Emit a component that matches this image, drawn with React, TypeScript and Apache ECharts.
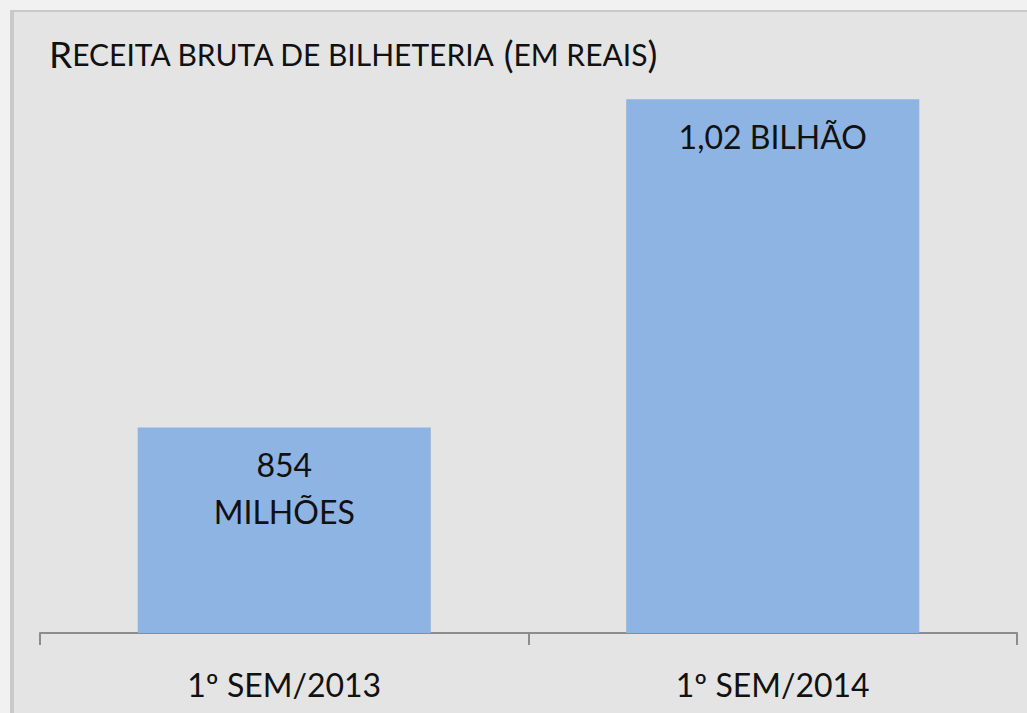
import React, { useEffect, useRef } from "react";
import * as echarts from "echarts";

const categories = ["1º SEM/2013", "1º SEM/2014"];
const values = [854, 1020];
const valueLabels = ["854\nMILHÕES", "1,02 BILHÃO"];
const yMin = 750;
const yMax = 1050;

const FONT = "Lato";

export default function App() {
  const ref = useRef<HTMLDivElement>(null);
  useEffect(() => {
    if (!ref.current) return;
    const chart = echarts.init(ref.current, null, { renderer: "svg" });
    chart.setOption({
      animation: false,
      backgroundColor: "#f1f1f1",
      graphic: [
        {
          type: "rect",
          shape: { x: 10, y: 10, width: 1017, height: 703 },
          style: { fill: "#c9c9c9" },
          silent: true,
          z: -10,
        },
        {
          type: "rect",
          shape: { x: 14, y: 12, width: 1013, height: 701 },
          style: { fill: "#e4e4e4" },
          silent: true,
          z: -9,
        },
      ],
      title: {
        left: 44,
        top: 30,
        text: "{b|R}{s|ECEITA BRUTA DE BILHETERIA }{b|(}{s|EM REAIS}{b|)}",
        textStyle: {
          rich: {
            b: { fontFamily: FONT, fontSize: 37, color: "#111", fontWeight: "normal" },
            s: { fontFamily: FONT, fontSize: 30, color: "#111", fontWeight: "normal" },
          },
        },
      },
      grid: { left: 40, right: 10, top: 40, bottom: 80 },
      xAxis: {
        type: "category",
        data: categories,
        axisLine: { lineStyle: { color: "#8c8c8c", width: 2 } },
        axisTick: { show: true, length: 12, lineStyle: { color: "#8c8c8c", width: 2 } },
        axisLabel: {
          fontFamily: FONT,
          fontSize: 32,
          color: "#111",
          margin: 33,
          lineHeight: 36,
        },
      },
      yAxis: {
        type: "value",
        min: yMin,
        max: yMax,
        show: false,
        splitLine: { show: false },
      },
      series: [
        {
          type: "bar",
          data: values,
          barWidth: "60%",
          itemStyle: { color: "#8eb4e3" },
          label: {
            show: true,
            position: "insideTop",
            distance: 14,
            formatter: (p: any) => valueLabels[p.dataIndex],
            fontFamily: FONT,
            fontSize: 32,
            lineHeight: 47,
            color: "#111",
            align: "center",
          },
        },
      ],
    });
    return () => chart.dispose();
  }, []);
  return (
    <div
      ref={ref}
      style={{ position: "absolute", left: 0, top: 0, width: 1027, height: 713 }}
    />
  );
}
